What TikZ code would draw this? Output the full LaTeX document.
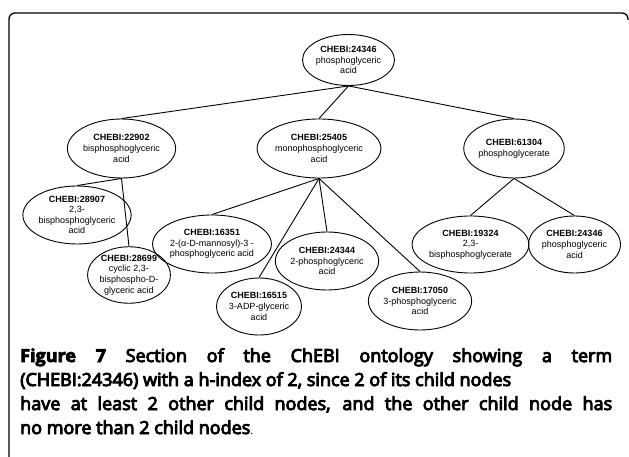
\documentclass[tikz,border=0pt]{standalone}
\usepackage{fontspec}
\setmainfont{Liberation Sans}
\newfontfamily\capfont{Open Sans}
\newcommand\heavyon{\special{pdf:literal direct 2 Tr 0.9 w}}
\newcommand\heavieron{\special{pdf:literal direct 2 Tr 0.7 w}}
\newcommand\heavyoff{\special{pdf:literal direct 0 Tr}}
\usetikzlibrary{shapes.geometric}
\tikzset{
  chebi/.style={ellipse, draw, line width=0.9pt, inner sep=0pt, align=center,
    font=\fontsize{9}{10.6}\selectfont},
  edge/.style={line width=0.9pt},
  capline/.style={anchor=base west, inner sep=0pt},
}
\newcommand\capsize{\capfont\fontsize{18}{20}\selectfont}
\begin{document}
\begin{tikzpicture}[x=1pt,y=-1pt]
\useasboundingbox (0,0) rectangle (629,457);
\draw[line width=1.3pt, rounded corners=6pt] (9,458) -- (9,13) -- (628,13) -- (628,20);

\node[chebi, minimum width=76pt, minimum height=51pt] (root) at (348.5,60)
  {\textbf{CHEBI:24346}\\phosphoglyceric\\acid};
\node[chebi, minimum width=92pt, minimum height=59pt] (a) at (121.5,148.5)
  {\textbf{CHEBI:22902}\\bisphosphoglyceric\\acid};
\node[chebi, minimum width=114pt, minimum height=59pt] (b) at (319,148.5)
  {\textbf{CHEBI:25405}\\monophosphoglyceric\\acid};
\node[chebi, minimum width=92pt, minimum height=59pt] (c) at (514,148.5)
  {\textbf{CHEBI:61304}\\phosphoglycerate};
\node[chebi, minimum width=90pt, minimum height=58pt] (a1) at (77,215)
  {\textbf{CHEBI:28907}\\2,3-\\bisphosphoglyceric\\acid};
\node[chebi, minimum width=76pt, minimum height=55pt] (a2) at (129,275)
  {\textbf{CHEBI:28699}\\cyclic 2,3-\\bisphospho-D-\\glyceric acid};
\node[chebi, minimum width=92pt, minimum height=58pt] (b1) at (212,244)
  {\textbf{CHEBI:16351}\\2-(α-D-mannosyl)-3 -\\phosphoglyceric acid};
\node[chebi, minimum width=88pt, minimum height=58pt] (b2) at (327,261)
  {\textbf{CHEBI:24344}\\2-phosphoglyceric\\acid};
\node[chebi, minimum width=74pt, minimum height=57pt] (b3) at (259,306.5)
  {\textbf{CHEBI:16515}\\3-ADP-glyceric\\acid};
\node[chebi, minimum width=98pt, minimum height=58pt] (b4) at (420,301)
  {\textbf{CHEBI:17050}\\3-phosphoglyceric\\acid};
\node[chebi, minimum width=103pt, minimum height=57pt] (c1) at (470.5,244.5)
  {\textbf{CHEBI:19324}\\2,3-\\bisphosphoglycerate};
\node[chebi, minimum width=77pt, minimum height=57pt] (c2) at (574.5,244.5)
  {\textbf{CHEBI:24346}\\phosphoglyceric\\acid};

\foreach \p/\q in {root/a, root/b, root/c, a/a1, a/a2, b/b1, b/b2, b/b3, b/b4, c/c1, c/c2}
  \draw[edge] (\p.south) -- (\q.north);

\node[capline] (l1) at (20,362)
  {\capsize\makebox[592pt][s]{\heavieron\textbf{Figure 7}\heavyoff{} \heavyon Section of the ChEBI ontology showing a term\heavyoff}};
\node[capline] (l2) at (20,386)
  {\capsize\heavyon(CHEBI:24346) with a h-index of 2, since 2 of its child nodes\heavyoff};
\node[capline] (l3) at (20,410)
  {\capsize\makebox[592pt][s]{\heavyon have at least 2 other child nodes, and the other child node has\heavyoff}};
\node[capline] (l4) at (20,434)
  {\capsize\heavyon no more than 2 child nodes\heavyoff{\fontsize{11}{12}\selectfont .}};
\end{tikzpicture}
\end{document}
